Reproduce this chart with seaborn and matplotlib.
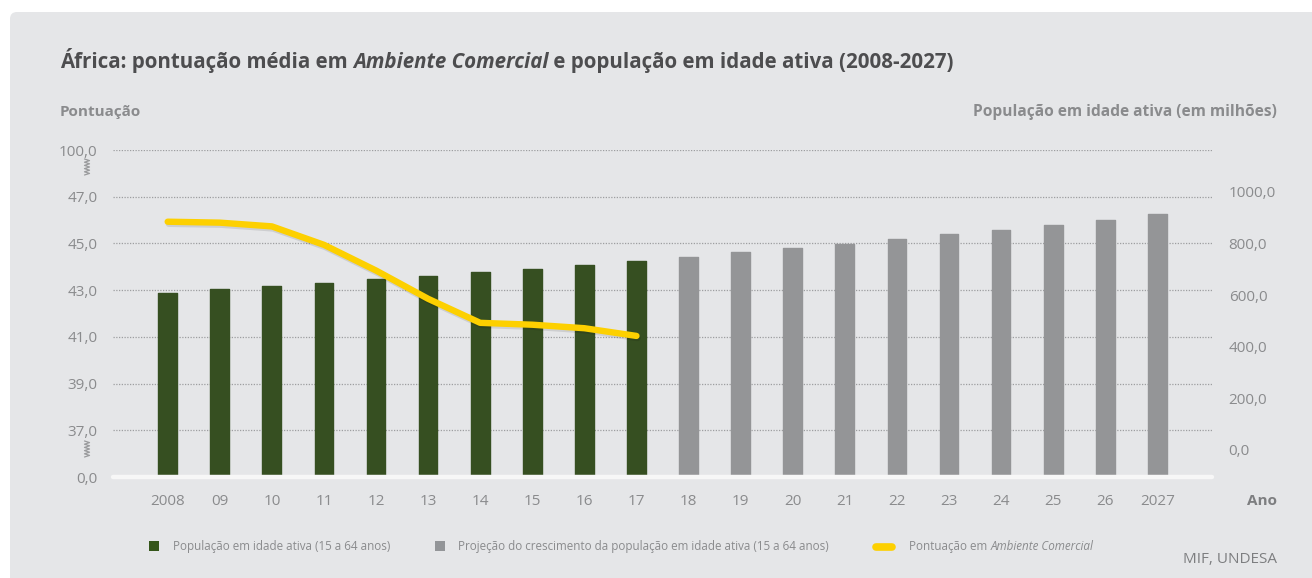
import numpy as np
import pandas as pd
import matplotlib
matplotlib.use("Agg")
import matplotlib.pyplot as plt
import seaborn as sns
from matplotlib.patches import FancyBboxPatch, Rectangle
from matplotlib.lines import Line2D
from matplotlib.transforms import IdentityTransform
from matplotlib import font_manager as fm
import matplotlib.patheffects as pe

# ---------------- data ----------------
anos = ["2008", "09", "10", "11", "12", "13", "14", "15", "16", "17",
        "18", "19", "20", "21", "22", "23", "24", "25", "26", "2027"]
pop_ativa = [608, 622, 635, 648, 663, 675, 688, 702, 716, 732,
             748, 765, 781, 799, 817, 836, 853, 872, 892, 914]
serie = ["obs"] * 10 + ["proj"] * 10
anos_pontuacao = list(range(10))
pontuacao = [45.93, 45.89, 45.73, 44.94, 43.84, 42.63, 41.60, 41.52, 41.37, 41.04]

esq_ticks = [35, 37, 39, 41, 43, 45, 47, 49]
esq_labels = ["0,0", "37,0", "39,0", "41,0", "43,0", "45,0", "47,0", "100,0"]
dir_ticks = [0, 200, 400, 600, 800, 1000]
dir_labels = ["0,0", "200,0", "400,0", "600,0", "800,0", "1000,0"]

VERDE = "#35561a"
CINZA_BARRA = "#939598"
AMARELO = "#fdd000"
FUNDO = "#e5e6e8"
TXT = "#8a8b8d"
TITULO = "#4d4d4f"

sns.set_style("white")


def tem_negrito(fam):
    try:
        f = fm.findfont(fm.FontProperties(family=fam, weight="bold"), fallback_to_default=False)
    except Exception:
        return False
    return "bold" in f.lower()


FAMILIA = "DejaVu Sans"
for fam in ["Noto Sans", "Open Sans", "Lato", "Roboto", "Liberation Sans"]:
    if tem_negrito(fam):
        FAMILIA = fam
        break
plt.rcParams["font.family"] = [FAMILIA, "DejaVu Sans"]

W, H = 1312, 578
fig = plt.figure(figsize=(W / 100, H / 100), dpi=100)
fig.patch.set_facecolor("white")

panel = FancyBboxPatch((10, -20), W + 20, H - 12 + 20,
                       boxstyle="round,pad=0,rounding_size=7",
                       transform=IdentityTransform(), facecolor=FUNDO,
                       edgecolor="none", zorder=-10)
fig.patches.append(panel)

ax_l, ax_r, ax_t, ax_b = 113, 1212, 150, 477
rect = [ax_l / W, 1 - ax_b / H, (ax_r - ax_l) / W, (ax_b - ax_t) / H]

ax = fig.add_axes(rect)
ax2 = ax.twinx()
ax3 = ax.twinx()
for a, z in ((ax, 1), (ax2, 2), (ax3, 3)):
    a.set_zorder(z)
    a.patch.set_visible(False)
    for s in a.spines.values():
        s.set_visible(False)

xlim = (-1.05, 20.05)

ax.set_ylim(35, 49)
ax.set_xlim(*xlim)
ax.set_yticks(esq_ticks)
ax.set_yticklabels(esq_labels)
ax.tick_params(axis="y", length=0, pad=11, labelsize=11, labelcolor=TXT)
for yv in esq_ticks[1:]:
    ax.axhline(yv, color="#9d9ea0", lw=0.9, ls=(0, (1, 1.2)), zorder=0)

ymin_dir = (450 - ax_b) / 0.2583
ymax_dir = (450 - ax_t) / 0.2583
df = pd.DataFrame({"ano": anos, "pop": pop_ativa, "serie": serie})
df["altura"] = df["pop"] - ymin_dir
sns.barplot(data=df, x="ano", y="altura", hue="serie", order=anos,
            palette={"obs": VERDE, "proj": CINZA_BARRA}, dodge=False,
            width=0.36, bottom=ymin_dir, legend=False, ax=ax2, linewidth=0)
for p in ax2.patches:
    p.set_edgecolor(p.get_facecolor())
    p.set_linewidth(1.0)
    p.set_joinstyle("round")
ax2.set_ylim(ymin_dir, ymax_dir)
ax2.set_xlim(*xlim)
ax2.set_yticks(dir_ticks)
ax2.set_yticklabels(dir_labels)
ax2.tick_params(axis="y", length=0, pad=12, labelsize=11, labelcolor=TXT)
ax2.set_ylabel("")
ax2.set_xlabel("")
ax2.axhline(ymin_dir, color="#f7f7f7", lw=3.2, zorder=5, clip_on=False)

ax3.set_ylim(35, 49)
ax3.set_xlim(*xlim)
sns.lineplot(x=anos_pontuacao, y=pontuacao, ax=ax3, color=AMARELO, lw=4.6,
             solid_capstyle="round", solid_joinstyle="round",
             path_effects=[pe.SimpleLineShadow(offset=(0.8, -1.5), alpha=0.10, shadow_color="black"),
                           pe.Normal()])
ax3.set_yticks([])
ax3.set_ylabel("")

ax.set_xticks(range(len(anos)))
ax.set_xticklabels(anos)
ax.tick_params(axis="x", length=0, pad=12, labelsize=11, labelcolor=TXT)
ax2.tick_params(axis="x", length=0, labelbottom=False)
ax3.tick_params(axis="x", length=0, labelbottom=False)

fig.canvas.draw()
renderer = fig.canvas.get_renderer()


def texto_seq(x_px, y_px, partes, size, color, weight="normal"):
    x = x_px
    for txt, estilo in partes:
        t = fig.text(x / W, 1 - y_px / H, txt, fontsize=size, color=color,
                     fontweight=weight, fontstyle=estilo, ha="left", va="baseline")
        x += t.get_window_extent(renderer).width
    return x


texto_seq(60, 68, [("África: pontuação média em ", "normal"),
                   ("Ambiente Comercial", "italic"),
                   (" e população em idade ativa (2008-2027)", "normal")],
          14.8, TITULO, weight="bold")

fig.text(60 / W, 1 - 116 / H, "Pontuação", fontsize=11, color=TXT,
         fontweight="bold", ha="left", va="baseline")
fig.text(1277 / W, 1 - 116 / H, "População em idade ativa (em milhões)", fontsize=11.2,
         color=TXT, fontweight="bold", ha="right", va="baseline")
fig.text(1277 / W, 1 - 505 / H, "Ano", fontsize=11, color="#7d7e80",
         fontweight="bold", ha="right", va="baseline")
fig.text(1277 / W, 1 - 563 / H, "MIF, UNDESA", fontsize=11, color="#7d7e80",
         ha="right", va="baseline")

leg_y = 546
LEG = 8.35
fig.patches.append(Rectangle((149, H - leg_y - 5), 10, 10, transform=IdentityTransform(),
                             facecolor=VERDE, edgecolor="none"))
texto_seq(173, leg_y + 4, [("População em idade ativa (15 a 64 anos)", "normal")], LEG, TXT)
fig.patches.append(Rectangle((435, H - leg_y - 5), 10, 10, transform=IdentityTransform(),
                             facecolor=CINZA_BARRA, edgecolor="none"))
texto_seq(458, leg_y + 4, [("Projeção do crescimento da população em idade ativa (15 a 64 anos)", "normal")],
          LEG, TXT)
fig.lines.append(Line2D([876, 892], [H - leg_y - 1, H - leg_y - 1], transform=IdentityTransform(),
                        color=AMARELO, lw=5.5, solid_capstyle="round"))
texto_seq(909, leg_y + 4, [("Pontuação em ", "normal"), ("Ambiente Comercial", "italic")], LEG, TXT)

for yc in (167, 449):
    ys = np.linspace(yc - 8, yc + 8, 11)
    xs = np.where(np.arange(11) % 2 == 0, 84.5, 89.5)
    fig.lines.append(Line2D(xs, H - ys, transform=IdentityTransform(), color="#9a9b9d", lw=0.9))

fig.savefig("out.png", dpi=100, facecolor=fig.get_facecolor())
